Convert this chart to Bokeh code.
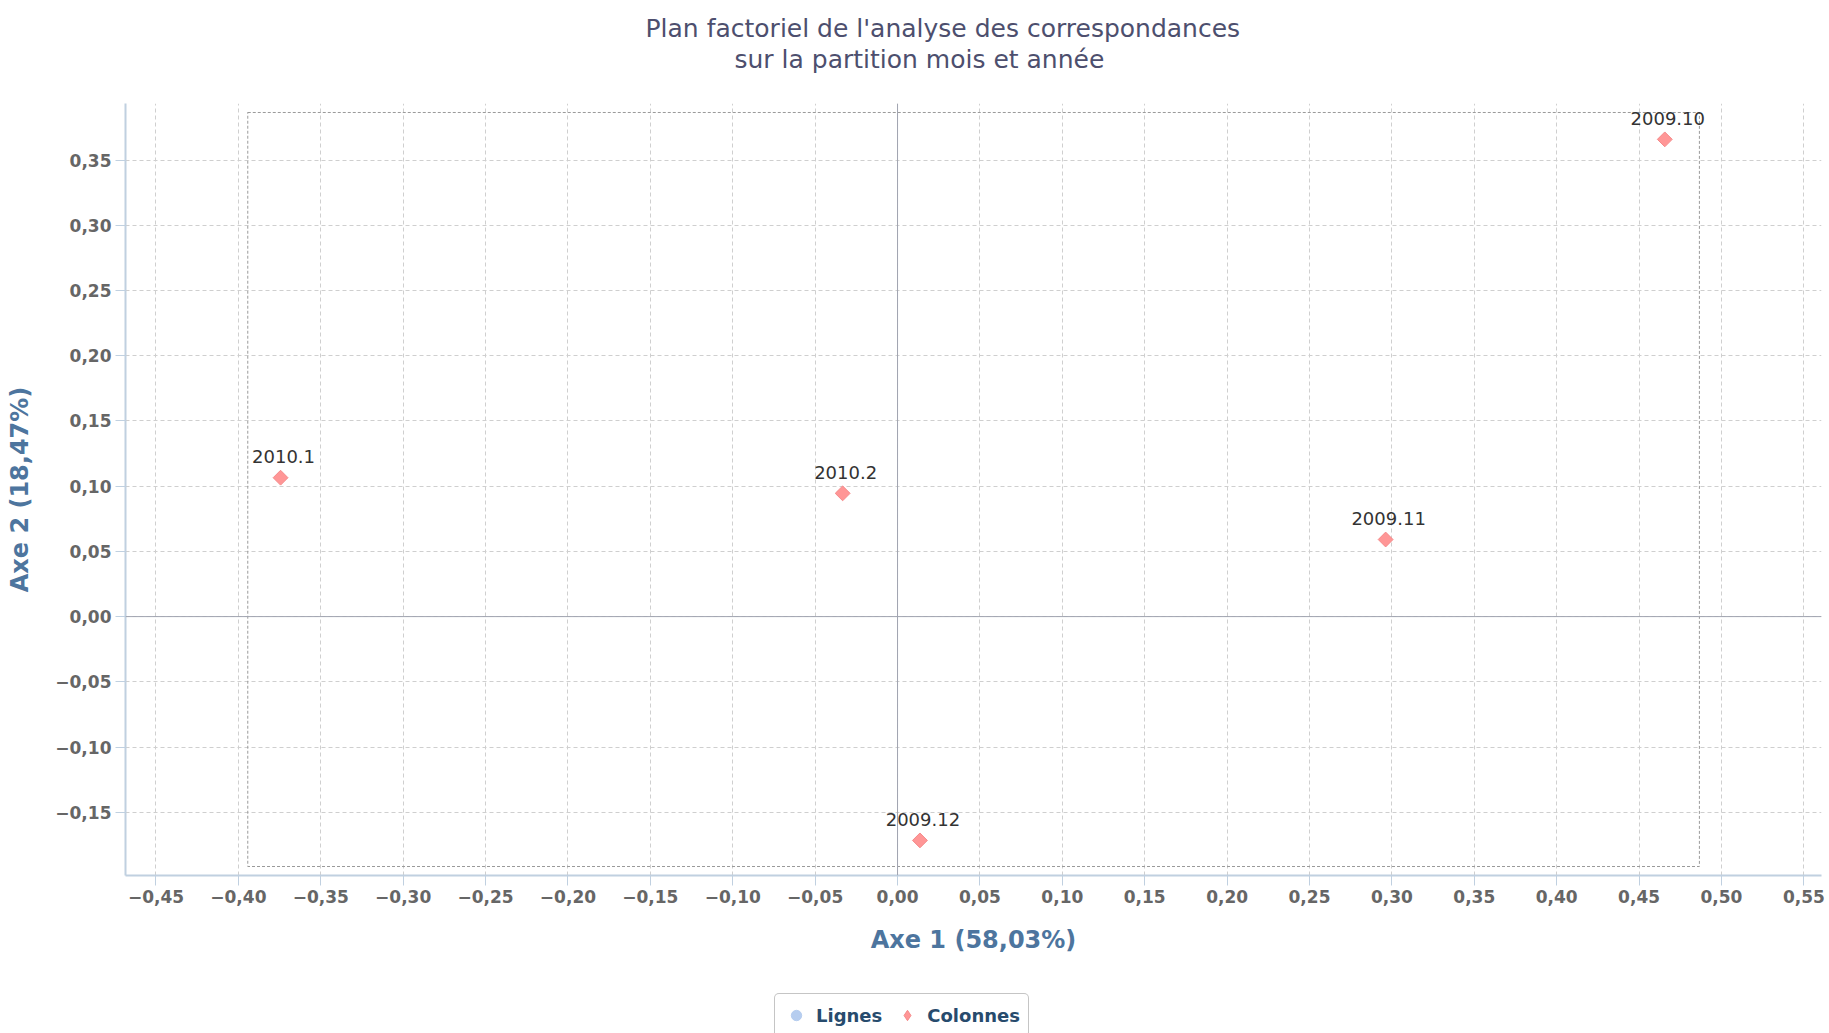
from bokeh.plotting import figure
from bokeh.layouts import column
from bokeh.models import (Range1d, FixedTicker, CustomJSTickFormatter, Span, LabelSet, Title,
                          ColumnDataSource, Legend, LegendItem)
from bokeh.embed import file_html
from bokeh.resources import INLINE
from bokeh.core.properties import value

# ---------------- data ----------------
title_lines = ["Plan factoriel de l'analyse des correspondances",
               "sur la partition mois et année"]
x_axis_title = "Axe 1 (58,03%)"
y_axis_title = "Axe 2 (18,47%)"

col_labels = ["2009.10", "2009.11", "2009.12", "2010.1", "2010.2"]
col_x = [0.4656, 0.2962, 0.0136, -0.3744, -0.0333]
col_y = [0.3659, 0.0591, -0.1716, 0.1065, 0.0945]

row_labels = []
row_x = []
row_y = []

x_ticks = [-0.45, -0.40, -0.35, -0.30, -0.25, -0.20, -0.15, -0.10, -0.05, 0.0,
           0.05, 0.10, 0.15, 0.20, 0.25, 0.30, 0.35, 0.40, 0.45, 0.50, 0.55]
y_ticks = [-0.15, -0.10, -0.05, 0.0, 0.05, 0.10, 0.15, 0.20, 0.25, 0.30, 0.35]

x_min, x_max = -0.4685, 0.5607
y_min, y_max = -0.1985, 0.3934

box_left, box_right = -0.3943, 0.4866
box_bottom, box_top = -0.1916, 0.3865

legend_names = ["Lignes", "Colonnes"]

ROW_COLOR = "#b6cdef"
COL_FILL, COL_LINE = "#ff9696", "#f58a8a"

# ---------------- main figure ----------------
W, H = 1829, 1033
HM = 985
p = figure(width=W, height=HM, output_backend="svg", toolbar_location=None,
           x_range=Range1d(x_min, x_max), y_range=Range1d(y_min, y_max),
           min_border_left=125, min_border_right=8, min_border_top=103,
           min_border_bottom=HM - 875)
p.outline_line_color = None
p.background_fill_color = "white"
p.border_fill_color = "white"

fmt = CustomJSTickFormatter(code="""
const v = Math.abs(tick) < 1e-9 ? 0 : tick;
const s = Math.abs(v).toFixed(2).replace('.', ',');
return (v < 0 ? '\\u2212' : '') + s;
""")

for ax, ticks in ((p.xaxis[0], x_ticks), (p.yaxis[0], y_ticks)):
    ax.ticker = FixedTicker(ticks=ticks)
    ax.formatter = fmt
    ax.minor_tick_line_color = None
    ax.major_tick_in = 0
    ax.major_tick_out = 10
    ax.major_tick_line_color = "#c0d0e0"
    ax.axis_line_color = "#c0d0e0"
    ax.axis_line_width = 2
    ax.major_label_text_font = "DejaVu Sans"
    ax.major_label_text_font_size = "17px"
    ax.major_label_text_font_style = "bold"
    ax.major_label_text_color = "#666666"
    ax.major_label_standoff = 4
    ax.axis_label_text_font = "DejaVu Sans"
    ax.axis_label_text_font_size = "24px"
    ax.axis_label_text_font_style = "bold"
    ax.axis_label_text_color = "#4d759e"

p.xaxis.axis_label = x_axis_title
p.yaxis.axis_label = y_axis_title
p.xaxis.axis_label_standoff = 20
p.yaxis.axis_label_standoff = 18

for g in (p.xgrid[0], p.ygrid[0]):
    g.grid_line_color = "#cfcfcf"
    g.grid_line_dash = "4 3"
    g.grid_line_width = 1
p.xgrid[0].ticker = FixedTicker(ticks=x_ticks)
p.ygrid[0].ticker = FixedTicker(ticks=y_ticks)

p.add_layout(Span(location=0, dimension="height", line_color="#a0a4b0", line_width=1))
p.add_layout(Span(location=0, dimension="width", line_color="#a0a4b0", line_width=1))

# dashed bounding box
p.quad(left=[box_left], right=[box_right], bottom=[box_bottom], top=[box_top],
       fill_alpha=0, line_color="#9a9a9a", line_dash="3 2", line_width=1)

# series
src_rows = ColumnDataSource(dict(x=row_x, y=row_y, label=row_labels))
src_cols = ColumnDataSource(dict(x=col_x, y=col_y, label=col_labels))

p.scatter("x", "y", source=src_rows, marker="circle", size=12,
          fill_color=ROW_COLOR, line_color=ROW_COLOR)
p.scatter("x", "y", source=src_cols, marker="square", angle=0.785398, size=10.5,
          fill_color=COL_FILL, line_color=COL_LINE, line_width=1)

labels = LabelSet(x="x", y="y", text="label", source=src_cols, text_align="center",
                  text_baseline="middle", y_offset=21, x_offset=3,
                  text_font=value("DejaVu Sans"), text_font_size=value("18px"),
                  text_color="#333333")
p.add_layout(labels)

# title (stacked above the frame: spacer, line 2, line 1)
p.add_layout(Title(text=" ", text_font_size="1px", standoff=26), "above")
p.add_layout(Title(text=title_lines[1], align="left", offset=609, vertical_align="middle",
                   standoff=0, text_font="DejaVu Sans", text_font_size="25px",
                   text_font_style="normal", text_color="#4d4f6e"), "above")
p.add_layout(Title(text=title_lines[0], align="left", offset=520, vertical_align="middle",
                   standoff=0, text_font="DejaVu Sans", text_font_size="25px",
                   text_font_style="normal", text_color="#4d4f6e"), "above")

# ---------------- legend strip ----------------
q = figure(width=W, height=H - HM, output_backend="svg", toolbar_location=None,
           x_axis_type=None, y_axis_type=None, x_range=Range1d(0, 1), y_range=Range1d(0, 1),
           min_border=0, min_border_left=0, min_border_right=0, min_border_top=0,
           min_border_bottom=0)
q.outline_line_color = None
q.grid.visible = False
q.background_fill_color = "white"
q.border_fill_color = "white"

nan = float("nan")
lg_rows = q.scatter(x=[nan], y=[nan], marker="circle", size=12,
                    fill_color=ROW_COLOR, line_color=ROW_COLOR)
lg_cols = q.scatter(x=[nan], y=[nan], marker="diamond", size=14,
                    fill_color=COL_FILL, line_color=COL_LINE, line_width=1)

legend = Legend(items=[LegendItem(label=legend_names[0], renderers=[lg_rows]),
                       LegendItem(label=legend_names[1], renderers=[lg_cols])],
                orientation="horizontal", location=(649, -4),
                padding=8, spacing=12, label_standoff=7, glyph_width=26, glyph_height=26,
                margin=0, border_line_color="#8c8c8c", border_line_width=1.5,
                border_radius=5,
                label_text_font="DejaVu Sans", label_text_font_size="18px",
                label_text_font_style="bold", label_text_color="#274b6d",
                background_fill_color="white", background_fill_alpha=1)
q.add_layout(legend, "center")

layout = column(p, q, spacing=0)
open("out.html", "w").write(file_html(layout, INLINE))
